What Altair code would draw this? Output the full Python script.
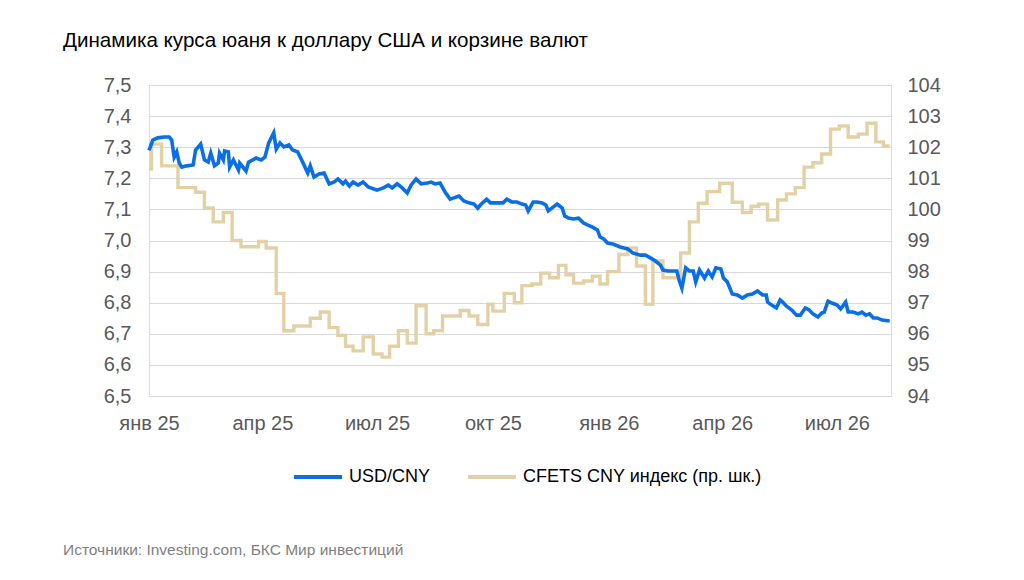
import altair as alt
import pandas as pd

TITLE = "Динамика курса юаня к доллару США и корзине валют"
SOURCE = "Источники: Investing.com, БКС Мир инвестиций"
S_USD = "USD/CNY"
S_CFETS = "CFETS CNY индекс (пр. шк.)"

START = "2025-01-01"

# USD/CNY (days since 2025-01-01, value)
usd_days = [
    0, 3, 7, 12, 16, 18, 20, 22, 24, 26,
    30, 35, 37, 41, 44, 47, 49, 52, 55, 56,
    59, 60, 63, 64, 67, 71, 72, 77, 79, 85,
    89, 92, 95, 99, 101, 104, 107, 111, 114, 118,
    122, 126, 128, 131, 135, 139, 143, 147, 150, 154,
    156, 159, 162, 166, 170, 174, 181, 186, 190, 193,
    197, 201, 205, 208, 212, 216, 221, 224, 227, 231,
    235, 239, 242, 246, 250, 254, 258, 261, 263, 268,
    271, 277, 281, 284, 288, 292, 296, 299, 301, 305,
    308, 312, 315, 317, 321, 324, 328, 330, 333, 337,
    341, 345, 348, 352, 356, 358, 361, 364, 368, 374,
    380, 384, 390, 394, 398, 402, 406, 408, 412, 419,
    421, 423, 426, 429, 432, 434, 437, 441, 444, 447,
    450, 454, 456, 459, 463, 467, 471, 475, 479, 483,
    487, 490, 491, 494, 498, 501, 503, 506, 510, 514,
    517, 521, 524, 527, 531, 534, 536, 539, 542, 546,
    549, 553, 555, 559, 563, 566, 569, 572, 575, 578,
    582, 588,
]
usd_vals = [
    7.290, 7.323, 7.330, 7.333, 7.333, 7.323, 7.268, 7.285, 7.249, 7.236,
    7.240, 7.243, 7.291, 7.310, 7.259, 7.252, 7.281, 7.240, 7.249, 7.281,
    7.259, 7.288, 7.285, 7.236, 7.259, 7.227, 7.249, 7.223, 7.252, 7.265,
    7.259, 7.268, 7.314, 7.346, 7.294, 7.314, 7.301, 7.307, 7.291, 7.285,
    7.252, 7.217, 7.240, 7.204, 7.214, 7.217, 7.182, 7.188, 7.198, 7.182,
    7.191, 7.175, 7.188, 7.178, 7.188, 7.172, 7.162, 7.169, 7.178, 7.169,
    7.182, 7.169, 7.153, 7.178, 7.198, 7.182, 7.185, 7.188, 7.182, 7.185,
    7.156, 7.133, 7.137, 7.143, 7.127, 7.121, 7.117, 7.104, 7.114, 7.133,
    7.121, 7.121, 7.121, 7.133, 7.124, 7.124, 7.117, 7.114, 7.095, 7.124,
    7.124, 7.121, 7.114, 7.095, 7.108, 7.117, 7.104, 7.079, 7.072, 7.069,
    7.072, 7.056, 7.050, 7.043, 7.034, 7.011, 7.005, 6.992, 6.989, 6.979,
    6.973, 6.960, 6.953, 6.953, 6.944, 6.934, 6.921, 6.905, 6.902, 6.902,
    6.870, 6.847, 6.912, 6.902, 6.902, 6.867, 6.905, 6.879, 6.902, 6.883,
    6.912, 6.908, 6.879, 6.867, 6.828, 6.825, 6.815, 6.825, 6.828, 6.838,
    6.825, 6.825, 6.802, 6.793, 6.783, 6.809, 6.802, 6.789, 6.777, 6.760,
    6.760, 6.783, 6.777, 6.764, 6.754, 6.767, 6.770, 6.805, 6.799, 6.793,
    6.780, 6.802, 6.770, 6.770, 6.764, 6.770, 6.760, 6.764, 6.751, 6.751,
    6.744, 6.741,
]

# CFETS CNY index, weekly fixings (days since 2025-01-01, value)
cfets_days = [
    0, 2, 10, 23, 37, 44, 51, 59, 66, 73,
    87, 93, 101, 107, 115, 128, 136, 143, 150, 156,
    162, 170, 178, 185, 191, 198, 205, 212, 220, 226,
    233, 247, 254, 261, 269, 273, 282, 290, 296, 304,
    311, 318, 325, 331, 337, 345, 352, 358, 364, 373,
    380, 387, 394, 400, 408, 422, 429, 436, 443, 453,
    463, 471, 478, 484, 491, 499, 506, 513, 520, 527,
    534, 541, 548, 555, 563, 570, 577, 583, 588,
]
cfets_vals = [
    101.3, 102.1, 101.4, 100.7, 100.55, 100.05, 99.6, 99.9, 99.0, 98.8,
    98.97, 98.76, 97.3, 96.1, 96.25, 96.5, 96.7, 96.2, 95.95, 95.6,
    95.45, 95.9, 95.35, 95.25, 95.6, 96.1, 95.7, 96.9, 96.0, 96.1,
    96.57, 96.75, 96.57, 96.3, 96.95, 96.73, 97.3, 97.0, 97.55, 97.6,
    97.95, 97.8, 98.2, 97.9, 97.63, 97.7, 97.85, 97.6, 98.0, 98.55,
    98.76, 98.18, 96.95, 98.34, 97.8, 98.6, 99.6, 100.2, 100.57, 100.84,
    100.23, 99.9, 100.1, 100.17, 99.66, 100.3, 100.5, 100.7, 101.36, 101.5,
    101.78, 102.58, 102.68, 102.33, 102.42, 102.77, 102.17, 102.04, 102.04,
]

left_ticks = [6.5, 6.6, 6.7, 6.8, 6.9, 7.0, 7.1, 7.2, 7.3, 7.4, 7.5]
right_ticks = [94, 95, 96, 97, 98, 99, 100, 101, 102, 103, 104]
month_names = ["янв", "фев", "мар", "апр", "май", "июн",
               "июл", "авг", "сен", "окт", "ноя", "дек"]
x_ticks = [(2025, 1), (2025, 4), (2025, 7), (2025, 10),
           (2026, 1), (2026, 4), (2026, 7)]

BLUE = "#0a6ee6"
BEIGE = "#e3d1a6"
FONT = "Liberation Sans"
LABEL_GREY = "#595959"
GRID = "#d9d9d9"
AXIS_FS = 20

base_date = pd.Timestamp(START)
usd = pd.DataFrame({
    "date": base_date + pd.to_timedelta(usd_days, unit="D"),
    "value": usd_vals,
    "series": S_USD,
})
cfets = pd.DataFrame({
    "date": base_date + pd.to_timedelta(cfets_days, unit="D"),
    "value": cfets_vals,
    "series": S_CFETS,
})
src = pd.DataFrame({"t": [SOURCE]})

month_arr = "[" + ",".join(f"'{m}'" for m in month_names) + "]"
x_label_expr = month_arr + "[month(datum.value)] + ' ' + timeFormat(datum.value, '%y')"

x_enc = alt.X(
    "date:T",
    scale=alt.Scale(domain=[alt.DateTime(year=2025, month=1, date=1),
                            alt.DateTime(year=2026, month=8, date=13)]),
    axis=alt.Axis(
        values=[alt.DateTime(year=y, month=m, date=1) for y, m in x_ticks],
        labelExpr=x_label_expr, labelFlush=False, labelOverlap=False,
        grid=False, domain=False, ticks=False,
        labelFont=FONT, labelFontSize=AXIS_FS, labelColor=LABEL_GREY,
        labelPadding=17, title=None,
    ),
)

color_enc = alt.Color(
    "series:N",
    scale=alt.Scale(domain=[S_USD, S_CFETS], range=[BLUE, BEIGE]),
    legend=alt.Legend(
        orient="none", legendX=143, legendY=366, direction="horizontal",
        title=None, symbolType="stroke", symbolSize=2300, symbolStrokeWidth=4,
        labelFont=FONT, labelFontSize=18, labelColor="#000000",
        labelLimit=400, labelOffset=5, columnPadding=29, padding=0,
    ),
)

cfets_line = alt.Chart(cfets).mark_line(
    interpolate="step-after", strokeWidth=3.4
).encode(
    x=x_enc,
    y=alt.Y(
        "value:Q",
        scale=alt.Scale(domain=[94, 104], nice=False, zero=False),
        axis=alt.Axis(
            orient="right", values=right_ticks, grid=False, domain=False,
            ticks=False, labelFont=FONT, labelFontSize=AXIS_FS,
            labelColor=LABEL_GREY, labelPadding=16, title=None,
        ),
    ),
    color=color_enc,
)

usd_line = alt.Chart(usd).mark_line(strokeWidth=3.6).encode(
    x=x_enc,
    y=alt.Y(
        "value:Q",
        scale=alt.Scale(domain=[6.5, 7.5], nice=False, zero=False),
        axis=alt.Axis(
            orient="left", values=left_ticks,
            labelExpr="replace(format(datum.value, '.1f'), '.', ',')",
            grid=True, gridColor=GRID, gridWidth=1, domain=False, ticks=False,
            labelFont=FONT, labelFontSize=AXIS_FS, labelColor=LABEL_GREY,
            labelPadding=18, title=None,
        ),
    ),
    color=color_enc,
)

source_text = alt.Chart(src).mark_text(
    align="left", baseline="alphabetic", font=FONT, fontSize=15.5,
    color="#7f7f7f",
).encode(
    x=alt.value(-86),
    y=alt.value(470),
    text="t:N",
)

chart = alt.layer(cfets_line, usd_line, source_text).resolve_scale(
    y="independent"
).properties(
    width=742,
    height=311,
    autosize=alt.AutoSizeParams(type="none"),
    padding={"left": 141, "top": 77, "right": 125, "bottom": 176},
    title=alt.TitleParams(
        text=TITLE, anchor="start", frame="group", dx=-86,
        font=FONT, fontSize=20.6, fontWeight="normal", color="#000000",
        offset=23,
    ),
).configure_view(stroke=None).configure(background="white")

chart.save("out.html", embed_options={"renderer": "svg", "actions": False})
